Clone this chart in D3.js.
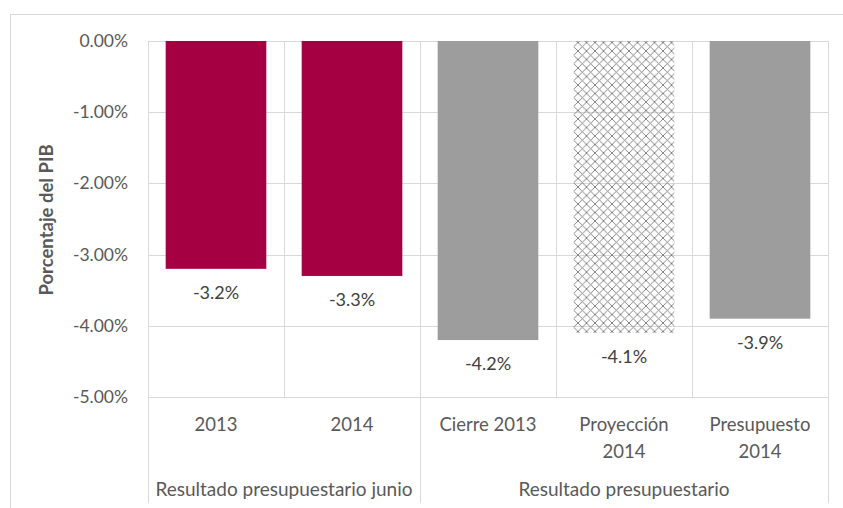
<!DOCTYPE html>
<html>
<head>
<meta charset="utf-8">
<script src="https://cdnjs.cloudflare.com/ajax/libs/d3/7.8.5/d3.min.js"></script>
<style>
  body { margin: 0; background: #fff; }
  text { font-family: Lato, "Open Sans", sans-serif; }
</style>
</head>
<body>
<div id="chart"></div>
<script>
// data
var categories = ["2013", "2014", "Cierre 2013", "Proyección 2014", "Presupuesto 2014"];
var catLines = [["2013"], ["2014"], ["Cierre 2013"], ["Proyección", "2014"], ["Presupuesto", "2014"]];
var values = [-3.2, -3.3, -4.2, -4.1, -3.9];
var labels = ["-3.2%", "-3.3%", "-4.2%", "-4.1%", "-3.9%"];
var fills = ["red", "red", "gray", "hatch", "gray"];
var groups = [
    {name: "Resultado presupuestario junio", from: 0, to: 1},
    {name: "Resultado presupuestario", from: 2, to: 4}
];
var yTicks = [0, -1, -2, -3, -4, -5];

var width = 843, height = 508;
var margin = {top: 41, left: 148, right: 15, bottom: 111};

var svg = d3.select("#chart").append("svg")
    .attr("width", width)
    .attr("height", height);

// outer chart frame
svg.append("rect")
    .attr("x", 10.5).attr("y", 14.5)
    .attr("width", 845).attr("height", 510)
    .attr("fill", "none")
    .attr("stroke", "#d9d9d9");

var defs = svg.append("defs");
var pat = defs.append("pattern")
    .attr("id", "hatch")
    .attr("patternUnits", "userSpaceOnUse")
    .attr("width", 8.5).attr("height", 8.5);
pat.append("path").attr("d", "M0,0L8.5,8.5M8.5,0L0,8.5M-1,7.5L1,9.5M7.5,-1L9.5,1")
    .attr("stroke", "#777").attr("stroke-width", 0.9).attr("fill", "none");

var x = d3.scaleBand()
    .domain(categories)
    .range([margin.left, width - margin.right])
    .paddingInner(0.26).paddingOuter(0.13);

var y = d3.scaleLinear()
    .domain([-5, 0])
    .range([height - margin.bottom, margin.top]);

var step = x.step();
var x0 = margin.left, x1 = width - margin.right;

// horizontal gridlines
svg.selectAll(".grid")
    .data(yTicks)
    .enter().append("line")
    .attr("x1", x0).attr("x2", x1)
    .attr("y1", function(d) { return Math.round(y(d)) + 0.5; })
    .attr("y2", function(d) { return Math.round(y(d)) + 0.5; })
    .attr("stroke", "#d9d9d9");

// vertical category lines (group edges run down past the labels)
d3.range(categories.length + 1).forEach(function(i) {
    var gx = Math.round(x0 + i * step) + 0.5;
    var isGroupEdge = (i == 0 || i == 2 || i == categories.length);
    svg.append("line")
        .attr("x1", gx).attr("x2", gx)
        .attr("y1", margin.top)
        .attr("y2", isGroupEdge ? 503 : y(-5))
        .attr("stroke", "#d9d9d9");
});

// bars
svg.selectAll(".bar")
    .data(values)
    .enter().append("rect")
    .attr("x", function(d, i) { return x(categories[i]); })
    .attr("y", y(0))
    .attr("width", x.bandwidth())
    .attr("height", function(d) { return y(d) - y(0); })
    .attr("fill", function(d, i) {
        if (fills[i] == "red") return "#a50042";
        if (fills[i] == "gray") return "#9d9d9d";
        return "url(#hatch)";
    });

// data labels
svg.selectAll(".lbl")
    .data(values)
    .enter().append("text")
    .attr("x", function(d, i) { return x(categories[i]) + x.bandwidth() / 2; })
    .attr("y", function(d) { return y(d) + 30; })
    .attr("text-anchor", "middle")
    .attr("font-size", 18)
    .attr("fill", "#404040")
    .text(function(d, i) { return labels[i]; });

// y tick labels
svg.selectAll(".ytick")
    .data(yTicks)
    .enter().append("text")
    .attr("x", 128)
    .attr("y", function(d) { return y(d) + 6; })
    .attr("text-anchor", "end")
    .attr("font-size", 17.5)
    .attr("fill", "#595959")
    .text(function(d) { return d.toFixed(2) + "%"; });

// y title
svg.append("text")
    .attr("transform", "translate(53," + (y(-2.5) + 1) + ") rotate(-90)")
    .attr("text-anchor", "middle")
    .attr("font-size", 18.5)
    .attr("font-weight", "bold")
    .attr("fill", "#595959")
    .text("Porcentaje del PIB");

// category labels
catLines.forEach(function(lines, i) {
    var t = svg.append("text")
        .attr("text-anchor", "middle")
        .attr("font-size", 18.5)
        .attr("fill", "#595959");
    lines.forEach(function(l, j) {
        t.append("tspan")
            .attr("x", x0 + (i + 0.5) * step)
            .attr("y", 431 + j * 27)
            .text(l);
    });
});

// group labels
svg.selectAll(".grp")
    .data(groups)
    .enter().append("text")
    .attr("x", function(d) { return x0 + (d.from + d.to + 1) / 2 * step; })
    .attr("y", 496)
    .attr("text-anchor", "middle")
    .attr("font-size", 19)
    .attr("fill", "#595959")
    .text(function(d) { return d.name; });
</script>
</body>
</html>
